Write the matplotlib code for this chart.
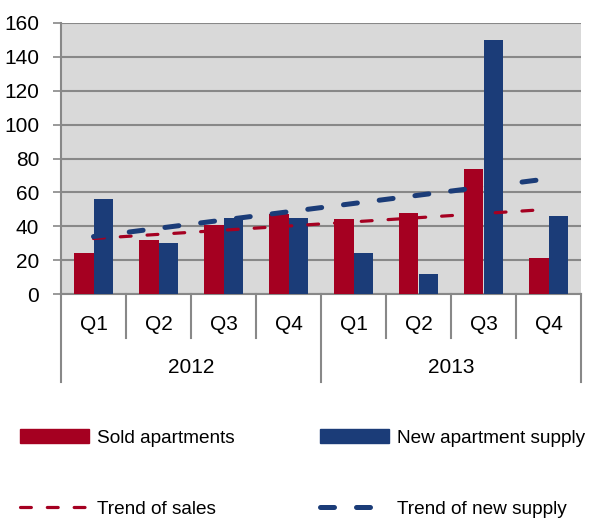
import numpy as np
import matplotlib
matplotlib.use("Agg")
import matplotlib.pyplot as plt
import matplotlib.transforms as mtransforms
from matplotlib.patches import Patch
from matplotlib.lines import Line2D

plt.rcParams['font.family'] = ['Liberation Sans', 'DejaVu Sans']

# ---- data ----
quarters = ["Q1", "Q2", "Q3", "Q4", "Q1", "Q2", "Q3", "Q4"]
years = ["2012", "2013"]
sold = [24, 32, 41, 47, 44, 48, 74, 21]
new_supply = [56, 30, 45, 45, 24, 12, 150, 46]
y_ticks = [0, 20, 40, 60, 80, 100, 120, 140, 160]

RED = "#A50021"
BLUE = "#1B3C78"
GRID = "#888888"
BG = "#D9D9D9"

W, H = 593, 518
fig = plt.figure(figsize=(W / 100, H / 100), dpi=100)
ax = fig.add_axes([61 / W, (H - 294) / H, 520 / W, 271 / H])
ax.set_facecolor(BG)

x = np.arange(len(quarters))
bw = 0.3
ax.bar(x - bw / 2, sold, bw, color=RED, zorder=3, label="Sold apartments")
ax.bar(x + bw / 2, new_supply, bw, color=BLUE, zorder=3, label="New apartment supply")

# linear trend lines (as Excel trendlines)
ps = np.polyfit(x, sold, 1)
pn = np.polyfit(x, new_supply, 1)
xe = np.array([x[0], x[-1]])
ax.plot(xe, np.polyval(ps, xe), color=RED, lw=2.3, dashes=(3.4, 5.0),
        dash_capstyle='round', zorder=4)
ax.plot(xe, np.polyval(pn, xe), color=BLUE, lw=3.6, dashes=(2.8, 4.4),
        dash_capstyle='round', zorder=4)

ax.set_xlim(-0.5, len(quarters) - 0.5)
ax.set_ylim(0, 160)
ax.set_yticks(y_ticks)
ax.set_yticklabels([str(v) for v in y_ticks], fontsize=15)
ax.yaxis.grid(True, color=GRID, lw=1.5, zorder=0)
ax.set_axisbelow(True)
ax.tick_params(axis='y', length=5.8, width=1.2, color=GRID, pad=10)
ax.tick_params(axis='x', length=0, labelbottom=False)
for s in ['top', 'right']:
    ax.spines[s].set_visible(False)
for s in ['left', 'bottom']:
    ax.spines[s].set_color(GRID)
    ax.spines[s].set_linewidth(1.5)

# two-level category axis
trans = mtransforms.blended_transform_factory(ax.transData, ax.transAxes)
q_bottom = (294 - 338) / 271
y_bottom = (294 - 382) / 271
for k in range(len(quarters) + 1):
    xb = k - 0.5
    yb = y_bottom if k % 4 == 0 else q_bottom
    ax.plot([xb, xb], [0, yb], color=GRID, lw=1.5, transform=trans, clip_on=False)
for i, q in enumerate(quarters):
    ax.text(i, (294 - 324.5) / 271, q, transform=trans, ha='center', va='center',
            fontsize=15)
for j, yr in enumerate(years):
    ax.text(4 * j + 1.5, (294 - 367.5) / 271, yr, transform=trans, ha='center',
            va='center', fontsize=15)

handles = [
    Patch(color=RED, label="Sold apartments"),
    Line2D([], [], color=RED, lw=2.3, dashes=(3.4, 5.0), dash_capstyle='round',
           label="Trend of sales"),
    Patch(color=BLUE, label="New apartment supply"),
    Line2D([], [], color=BLUE, lw=3.6, dashes=(2.8, 4.4), dash_capstyle='round',
           label="Trend of new supply"),
]
fs = 13.7
fs_px = fs * 100 / 72
fig.legend(handles=handles, ncol=2, loc='upper left',
           bbox_to_anchor=(20 / W, (H - 429) / H), frameon=False, fontsize=fs,
           handlelength=69 / fs_px, handleheight=14 / fs_px,
           handletextpad=8 / fs_px, columnspacing=85 / fs_px,
           labelspacing=2.82, borderpad=0, borderaxespad=0)

fig.savefig("out.png", dpi=100)
